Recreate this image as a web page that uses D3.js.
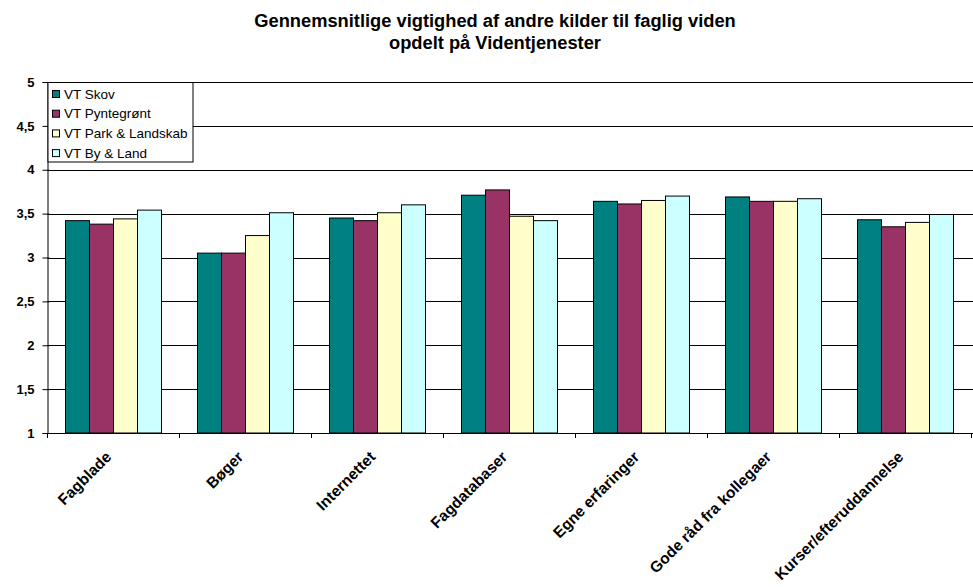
<!DOCTYPE html>
<html><head><meta charset="utf-8">
<script src="https://cdn.jsdelivr.net/npm/d3@7"></script>
<style>body{margin:0;background:#fff}svg{display:block;font-family:"Liberation Sans",Arial,sans-serif}</style>
</head><body><svg id="c" width="973" height="587"></svg>
<script>
const categories = ["Fagblade","Bøger","Internettet","Fagdatabaser","Egne erfaringer","Gode råd fra kollegaer","Kurser/efteruddannelse"];
const seriesNames = ["VT Skov","VT Pyntegrønt","VT Park & Landskab","VT By & Land"];
const vtSkov       = [3.42, 3.05, 3.45, 3.71, 3.64, 3.69, 3.43];
const vtPyntegront = [3.38, 3.05, 3.42, 3.77, 3.61, 3.64, 3.35];
const vtPark       = [3.44, 3.25, 3.51, 3.47, 3.65, 3.64, 3.40];
const vtByLand     = [3.54, 3.51, 3.60, 3.42, 3.70, 3.67, 3.49];
const yTicks = [1,1.5,2,2.5,3,3.5,4,4.5,5];
const colors = ["#008080","#993366","#FFFFCC","#CCFFFF"];
const titleLines = ["Gennemsnitlige vigtighed af andre kilder til faglig viden","opdelt på Videntjenester"];

(function(){
const series = [vtSkov, vtPyntegront, vtPark, vtByLand];
const svg = d3.select("#c");
const pLeft = 47.5, pRight = 971.5, pTop = 82, pBottom = 433;

const x = d3.scaleBand().domain(categories).range([pLeft, pRight]).paddingInner(0).paddingOuter(0);
const inner = d3.scaleBand().domain(seriesNames).range([0, x.bandwidth()]).paddingOuter(0.75).paddingInner(0);
const y = d3.scaleLinear().domain([1,5]).range([pBottom, pTop]);

// title
svg.append("g").selectAll("text").data(titleLines).join("text")
  .attr("x", 495).attr("y", (d,i)=>27+i*21.7).attr("text-anchor","middle")
  .attr("font-size",18.3).attr("font-weight","bold").text(d=>d);

// gridlines
svg.append("g").selectAll("line").data(yTicks.filter(t=>t>1)).join("line")
  .attr("x1", pLeft).attr("x2", pRight+2).attr("y1", d=>Math.round(y(d))+0.5).attr("y2", d=>Math.round(y(d))+0.5)
  .attr("stroke","#000").attr("stroke-width",1);

// bars
const g = svg.append("g");
categories.forEach((c, ci) => {
  series.forEach((s, si) => {
    g.append("rect")
      .attr("x", x(c) + inner(seriesNames[si]))
      .attr("width", inner.bandwidth())
      .attr("y", y(s[ci]))
      .attr("height", y(1) - y(s[ci]))
      .attr("fill", colors[si]).attr("stroke","#000").attr("stroke-width",1);
  });
});

// y axis
const yAxis = d3.axisLeft(y).tickValues(yTicks).tickSize(5).tickPadding(8)
  .tickFormat(d => String(d).replace(".", ","));
const ya = svg.append("g").attr("transform", `translate(${pLeft},0)`).call(yAxis);
ya.attr("font-size",13).attr("font-weight","bold");
ya.select(".domain").attr("stroke","#000");
ya.selectAll(".tick line").attr("x2",-5).attr("x1",2);
ya.selectAll("text").attr("font-size",13).attr("font-weight","bold").attr("fill","#000")
  .attr("font-family",'"Liberation Sans",Arial,sans-serif');

// x axis
const xAxis = d3.axisBottom(x).tickSize(0).tickFormat("");
const xa = svg.append("g").attr("transform", `translate(0,${Math.round(pBottom)+0.5})`).call(xAxis);
xa.select(".domain").attr("stroke","#000").attr("d", `M${pLeft},0H${pRight+2}`);
const bounds = categories.map(c=>x(c)).concat([pRight]);
svg.append("g").selectAll("line").data(bounds).join("line")
  .attr("x1", d=>d).attr("x2", d=>d).attr("y1", pBottom).attr("y2", pBottom+5)
  .attr("stroke","#000");

// x labels
svg.append("g").selectAll("text").data(categories).join("text")
  .attr("transform", d=>`translate(${x(d)+x.bandwidth()/2-5},${pBottom+21}) rotate(-45)`)
  .attr("text-anchor","end").attr("dominant-baseline","central")
  .attr("font-size",15.5).attr("font-weight","bold").text(d=>d);

// legend
const lg = svg.append("g");
lg.append("rect").attr("x",48).attr("y",82.5).attr("width",145).attr("height",79.5)
  .attr("fill","#fff").attr("stroke","#000");
seriesNames.forEach((n,i)=>{
  const cy = 94 + i*19.7;
  lg.append("rect").attr("x",52.5).attr("y",cy-3.5).attr("width",7).attr("height",7)
    .attr("fill",colors[i]).attr("stroke","#000");
  lg.append("text").attr("x",64).attr("y",cy).attr("dominant-baseline","central")
    .attr("font-size",13.5).text(n);
});
})();
</script></body></html>
